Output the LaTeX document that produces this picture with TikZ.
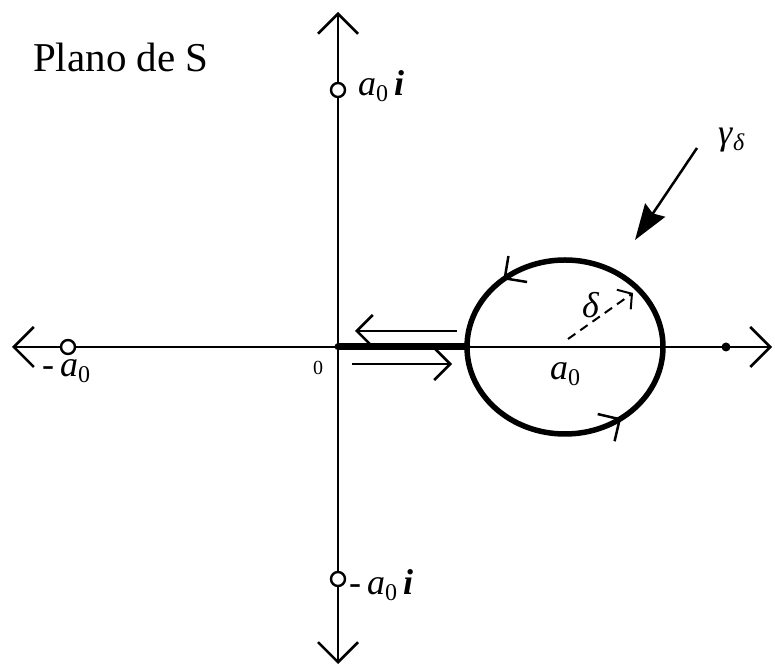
\documentclass[tikz,border=0pt]{standalone}
\usepackage{fontspec}
\setmainfont{Liberation Serif}
\usepackage{tikz}
\usetikzlibrary{arrows.meta,positioning}
\newcommand{\subsc}[1]{\raisebox{-6pt}{\fontsize{24}{24}\selectfont #1}}
\newcommand{\azero}{\textit{a}\subsc{0}}
\newcommand{\imag}{\textbf{\textit{i}}}

\begin{document}
\begin{tikzpicture}[
  x=1pt, y=1pt,
  every node/.style={font=\fontsize{36}{40}\selectfont, inner sep=0pt},
  axis/.style={line width=2.5pt, {Straight Barb[length=20pt,width=40pt]}-{Straight Barb[length=20pt,width=40pt]}},
  pole/.style={circle, draw, line width=2.4pt, minimum size=14pt, fill=white},
  curve/.style={line width=5.5pt},
  flow/.style={line width=2.5pt, -{Straight Barb[length=16pt,width=32pt]}},
]
  \useasboundingbox (0,0) rectangle (775,668);

  % axes
  \coordinate (xl) at (12,321);
  \coordinate (xr) at (772,321);
  \coordinate (yb) at (338,4);
  \coordinate (yt) at (338,656);
  \coordinate (orig) at (338,321);
  \draw[axis] (xl) -- (xr);
  \draw[axis] (yb) -- (yt);

  % contour
  \coordinate (ctr) at (565,321);
  \coordinate (lft) at (467,321);
  \draw[curve] (ctr) ellipse [x radius=98, y radius=87];
  \draw[line width=7pt, line cap=round] (orig) -- (lft);
  \draw[flow] (ctr) ++(116:98 and 87)
    arc[start angle=116, end angle=129, x radius=98, y radius=87];
  \draw[flow] (ctr) ++(-68:98 and 87)
    arc[start angle=-68, end angle=-55, x radius=98, y radius=87];

  % arrows along the cut
  \coordinate (ua) at (457,337);
  \coordinate (ub) at (355,337);
  \coordinate (la) at (352,304);
  \coordinate (lb) at (452,304);
  \draw[flow] (ua) -- (ub);
  \draw[flow] (la) -- (lb);

  % poles and point
  \node[pole] (pm) at (68,321) {};
  \node[pole] (pp) at (338,578) {};
  \node[pole] (pn) at (338,89) {};
  \fill (726,321) circle (4.5pt);

  % radius
  \coordinate (ra) at (568,329);
  \coordinate (rb) at (633,375);
  \draw[line width=2pt, dash pattern=on 9pt off 6pt,
    -{Straight Barb[length=10pt,width=24pt]}] (ra) -- (rb);

  % labels
  \node[anchor=base west, font=\fontsize{41}{46}\selectfont] (title) at (33,596) {Plano de S};
  \node[anchor=base west] (lpm) at (42,291) {-\,\azero};
  \node[anchor=base west, font=\fontsize{20}{22}\selectfont] (lorig) at (313,293) {0};
  \node[anchor=base west] (lpp) at (358,572) {\azero\,\imag};
  \node[anchor=base west] (lpn) at (349,73) {-\,\azero\,\imag};
  \node[anchor=base west] (lctr) at (550,288) {\azero};
  \node[anchor=base west] (ldel) at (582,350) {\textit{δ}};
  \node[anchor=base west] (lgam) at (718,523) {\textit{γ}\subsc{\textit{δ}}};

  \coordinate (ga) at (697,520);
  \coordinate (gb) at (635,428);
  \draw[line width=2.5pt, -{Stealth[length=36pt,width=24pt,inset=4pt]}] (ga) -- (gb);
\end{tikzpicture}
\end{document}
